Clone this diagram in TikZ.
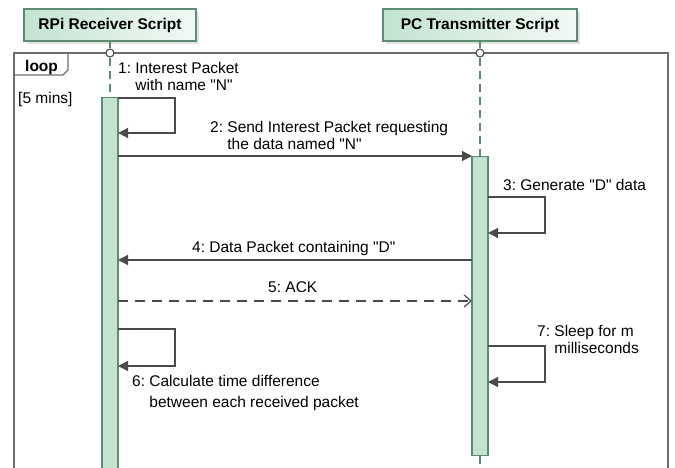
\documentclass[tikz,border=0pt]{standalone}
\usepackage{fontspec}
\setmainfont{Liberation Sans}
\usetikzlibrary{arrows.meta,calc,shadows}

\definecolor{actfill}{HTML}{C3E3D1}
\definecolor{actline}{HTML}{5E8B73}
\definecolor{msgline}{HTML}{4A4A4A}
\definecolor{framegray}{HTML}{6E6E6E}

% Straight double quote
\newcommand{\dq}{\textquotedbl}

\begin{document}
\begin{tikzpicture}[x=1pt,y=-1pt,
   head/.style={draw=actline,line width=1.2pt,left color=actfill,right color=actfill!20,
      drop shadow={shadow xshift=3pt,shadow yshift=-3pt,fill=gray!45},
      minimum height=32pt,inner sep=0pt,font=\fontsize{15.5}{18}\selectfont\bfseries},
   act/.style={draw=actline,line width=1.2pt,fill=actfill,minimum width=16pt,inner sep=0pt,anchor=north},
   top/.style={circle,draw=msgline,line width=1.1pt,fill=white,minimum size=8pt,inner sep=0pt},
   life/.style={actline,line width=1.4pt},
   msg/.style={msgline,line width=1.2pt,-{Triangle[length=10pt,width=10pt]}},
   reply/.style={msgline,line width=1.2pt,dash pattern=on 10pt off 7pt,-{Straight Barb[length=7pt,width=12pt]}},
   lab/.style={anchor=base west,inner sep=0pt,font=\fontsize{15.5}{17}\selectfont}]

\useasboundingbox (0,0) rectangle (675,467);
\clip (0,0) rectangle (675,467);

% Lifeline x positions
\def\xr{110}
\def\xp{480}
% Half width of activation bars
\def\ab{8}
% Width of self message loops
\def\sw{57}

% Loop frame (draw first so on bottom layer)
\draw[framegray,line width=1.2pt] (14,470) -- (14,53) -- (668,53) -- (668,470);
\draw[framegray,line width=1.2pt] (14,75) -- (63,75) -- (68,70) -- (68,53);
\node[lab,font=\fontsize{15.5}{18}\selectfont\bfseries] (loop) at (25,71) {loop};
\node[lab] (guard) at (18,103) {[5 mins]};

% Participants
\node[head,minimum width=172pt] (rpi) at (\xr,25) {RPi Receiver Script};
\node[head,minimum width=194pt] (pc) at (\xp,25) {PC Transmitter Script};

% Activation bars
\node[act,minimum height=383pt] (rpiact) at (\xr,97) {};
\node[act,minimum height=299pt] (pcact) at (\xp,156) {};
\coordinate (pcend) at (\xp,470);

% Lifelines
\node[top] (rpitop) at (\xr,53) {};
\node[top] (pctop) at (\xp,53) {};
\draw[life] (rpi.south) -- (rpitop.north);
\draw[life] (pc.south) -- (pctop.north);
\draw[life,dash pattern=on 8pt off 5pt] (rpitop.south) -- (rpiact.north);
\draw[life,dash pattern=on 8pt off 5pt] (pctop.south) -- (pcact.north);
\draw[life,dash pattern=on 8pt off 5pt] (pcact.south) -- (pcend);

% Self messages
\foreach \lx/\ya/\yb [count=\i] in {\xr/98/133, \xp/197/233, \xr/329/366, \xp/346/382}{
   \coordinate (self\i a) at (\lx+\ab,\ya);
   \coordinate (self\i b) at (\lx+\ab,\yb);
   \draw[msg] (self\i a) -- ++(\sw,0) |- (self\i b);
}

% Messages between the scripts
\coordinate (req a) at (\xr+\ab,156);
\coordinate (req b) at (\xp-\ab,156);
\coordinate (data a) at (\xp-\ab,260);
\coordinate (data b) at (\xr+\ab,260);
\coordinate (ack a) at (\xr+\ab,301);
\coordinate (ack b) at (\xp-\ab,301);
\draw[msg] (req a) -- (req b);
\draw[msg] (data a) -- (data b);
\draw[reply] (ack a) -- (ack b);

% Message labels
\node[lab] (lab1) at (118,73.5) {\begin{tabular}[t]{@{}l@{\ }l@{}}1: & Interest Packet\\ & with name \dq N\dq\end{tabular}};
\node[lab] (lab2) at (210,132.5) {\begin{tabular}[t]{@{}l@{\ }l@{}}2: & Send Interest Packet requesting\\ & the data named \dq N\dq\end{tabular}};
\node[lab] (lab3) at (503,190.5) {3:\ Generate \dq D\dq\ data};
\node[lab] (lab4) at (192,252.5) {4:\ Data Packet containing \dq D\dq};
\node[lab] (lab5) at (268,292.5) {5:\ ACK};
\node[lab] (lab6) at (132,386) {\begin{tabular}[t]{@{}l@{\ }l@{}}6: & Calculate time difference\\[4pt] & between each received packet\end{tabular}};
\node[lab] (lab7) at (537,336) {\begin{tabular}[t]{@{}l@{\ }l@{}}7: & Sleep for m\\ & milliseconds\end{tabular}};

\end{tikzpicture}
\end{document}
